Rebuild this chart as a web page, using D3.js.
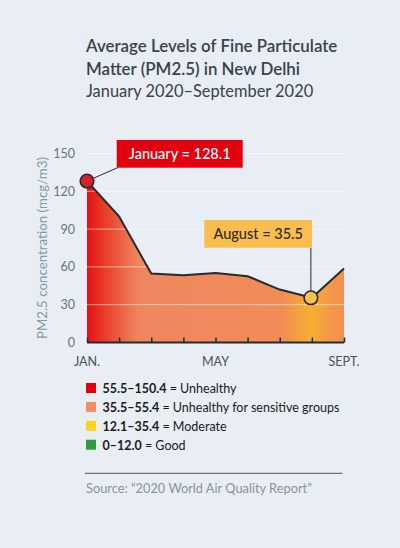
<!DOCTYPE html>
<html><head><meta charset="utf-8">
<script src="https://cdn.jsdelivr.net/npm/d3@7"></script>
<style>
html,body{margin:0;padding:0;background:#e8eef4;}
svg{display:block;font-family:"Lato","Open Sans",sans-serif;}
</style></head>
<body>
<svg id="chart" width="400" height="548"></svg>
<script>
const months = ["JAN.","FEB.","MAR.","APR.","MAY","JUN.","JUL.","AUG.","SEPT."];
const pm25 = [128.1, 100, 54.7, 53.4, 55.2, 52.6, 42, 35.5, 58.7];
const yTicks = [0, 30, 60, 90, 120, 150];
const xLabelIdx = [0, 4, 8];
const legendRanges = ["55.5–150.4", "35.5–55.4", "12.1–35.4", "0–12.0"];
const legendNames = ["Unhealthy", "Unhealthy for sensitive groups", "Moderate", "Good"];
const legendColors = ["#e3000f", "#f58c63", "#fdd31a", "#2e9e3b"];
const callouts = [{i:0, text:"January = 128.1"}, {i:7, text:"August = 35.5"}];

const svg = d3.select("#chart");
svg.append("rect").attr("width",400).attr("height",548).attr("fill","#e8eef4");

// Titles
const tc = "#3a424b";
svg.append("text").attr("x",86).attr("y",52).attr("fill",tc).attr("font-size",16.9).attr("font-weight",600).text("Average Levels of Fine Particulate");
svg.append("text").attr("x",86).attr("y",74.5).attr("fill",tc).attr("font-size",16.9).attr("font-weight",600).text("Matter (PM2.5) in New Delhi");
svg.append("text").attr("x",86).attr("y",97).attr("fill",tc).attr("font-size",16.4).attr("font-weight",400).text("January 2020–September 2020");

const x = d3.scaleLinear().domain([0, months.length-1]).range([87, 344]);
const y = d3.scaleLinear().domain([0, 150]).range([342.5, 153.5]);

// gradient
const defs = svg.append("defs");
const g = defs.append("linearGradient").attr("id","areaGrad").attr("gradientUnits","userSpaceOnUse")
  .attr("x1",x(0)).attr("x2",x(8)).attr("y1",0).attr("y2",0);
[[0,"#e50d17"],[0.06,"#e73a25"],[0.2,"#ef8660"],[0.5,"#f0895c"],[0.76,"#f28c55"],[0.87,"#f6b02f"],[0.94,"#f39a48"],[1,"#f28f50"]]
  .forEach(([o,c])=>g.append("stop").attr("offset",o).attr("stop-color",c));

// area
const area = d3.area().x((d,i)=>x(i)).y0(y(0)).y1(d=>y(d)).curve(d3.curveLinear);
svg.append("path").datum(pm25).attr("d",area).attr("fill","url(#areaGrad)");

// gridlines
svg.append("g").selectAll("line").data(yTicks.filter(t=>t>0)).join("line")
  .attr("x1",85).attr("x2",344).attr("y1",d=>y(d)).attr("y2",d=>y(d))
  .attr("stroke","#ffffff").attr("stroke-opacity",0.55).attr("stroke-width",1);

// y tick labels
svg.append("g").selectAll("text").data(yTicks).join("text")
  .attr("x",75).attr("y",d=>y(d)+4.5).attr("text-anchor","end")
  .attr("fill","#6c747d").attr("font-size",12.5).text(d=>d);

// y axis title
svg.append("text").attr("transform","translate(47,248) rotate(-90)").attr("text-anchor","middle")
  .attr("fill","#8a97a5").attr("font-size",13.3).text("PM2.5 concentration (mcg/m3)");

// line
const line = d3.line().x((d,i)=>x(i)).y(d=>y(d));
svg.append("path").datum(pm25).attr("d",line).attr("fill","none").attr("stroke","#262b31").attr("stroke-width",2).attr("stroke-linejoin","round");

// x axis
const xAxis = d3.axisBottom(x).tickValues(d3.range(months.length)).tickSize(-5).tickFormat("");
const ax = svg.append("g").attr("transform",`translate(0,${y(0)})`).call(xAxis);
ax.select(".domain").attr("d",`M${x(0)},0H${x(8)}`).attr("stroke","#262b31").attr("stroke-width",2);
ax.selectAll(".tick line").attr("stroke","#262b31").attr("stroke-width",1.5);

svg.append("g").selectAll("text").data(xLabelIdx).join("text")
  .attr("x",d=>x(d)).attr("y",365.5).attr("text-anchor","middle")
  .attr("fill","#4a525b").attr("font-size",12.5).text(d=>months[d]);

// callouts
// January
const j = callouts[0];
svg.append("line").attr("x1",x(j.i)).attr("y1",y(pm25[j.i])).attr("x2",118).attr("y2",167.5).attr("stroke","#262b31").attr("stroke-width",1);
svg.append("rect").attr("x",116.7).attr("y",140).attr("width",126).attr("height",27.7).attr("fill","#e3000f");
svg.append("text").attr("x",179.7).attr("y",159).attr("text-anchor","middle").attr("fill","#ffffff").attr("font-size",14.5).attr("font-weight",500).text(j.text);
svg.append("circle").attr("cx",x(j.i)).attr("cy",y(pm25[j.i])).attr("r",6.8).attr("fill","#d9202a").attr("stroke","#262b31").attr("stroke-width",1.6);

// August
const a = callouts[1];
svg.append("line").attr("x1",x(a.i)-1).attr("y1",247.7).attr("x2",x(a.i)-1).attr("y2",y(pm25[a.i])).attr("stroke","#262b31").attr("stroke-width",1);
svg.append("rect").attr("x",204.3).attr("y",220).attr("width",107.7).attr("height",27.7).attr("fill","#fbbd4e");
svg.append("text").attr("x",258.2).attr("y",239).attr("text-anchor","middle").attr("fill","#2b2b2b").attr("font-size",14.5).attr("font-weight",500).text(a.text);
svg.append("circle").attr("cx",x(a.i)-1).attr("cy",y(pm25[a.i])).attr("r",6.8).attr("fill","#fbc04e").attr("stroke","#262b31").attr("stroke-width",1.6);

// legend
const lg = svg.append("g").selectAll("g").data(legendRanges).join("g")
  .attr("transform",(d,i)=>`translate(86,${383 + i*18.9})`);
lg.append("rect").attr("width",10).attr("height",10).attr("fill",(d,i)=>legendColors[i]);
const lt = lg.append("text").attr("x",16.5).attr("y",10).attr("font-size",12.5).attr("fill","#1b1b1b");
lt.append("tspan").attr("font-weight",700).text(d=>d);
lt.append("tspan").text((d,i)=>" = " + legendNames[i]);

// divider and source
svg.append("line").attr("x1",85).attr("x2",342.5).attr("y1",473.3).attr("y2",473.3).attr("stroke","#6c737b").attr("stroke-width",1.2);
svg.append("text").attr("x",86).attr("y",492.5).attr("fill","#8c939b").attr("font-size",12.8).text("Source: “2020 World Air Quality Report”");
</script>
</body></html>
